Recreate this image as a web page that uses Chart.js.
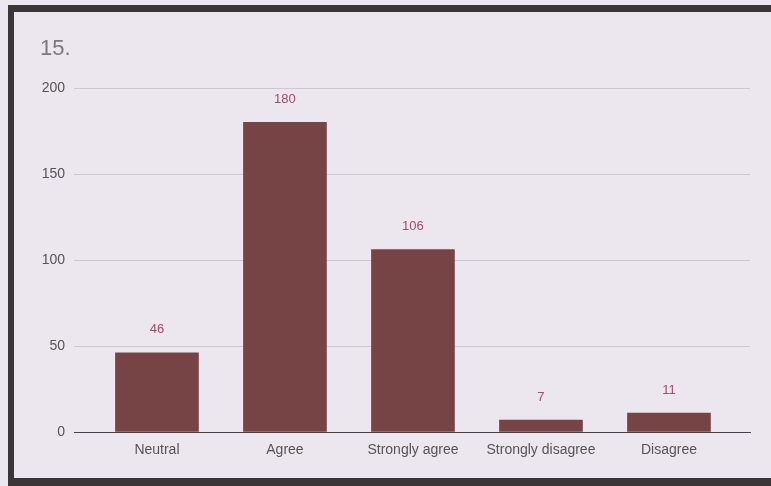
<!DOCTYPE html>
<html>
<head>
<meta charset="utf-8">
<script src="https://cdn.jsdelivr.net/npm/chart.js@4.4.0/dist/chart.umd.min.js"></script>
<style>
  html, body { margin: 0; padding: 0; background: #ece6ef; }
  #wrap { position: relative; width: 771px; height: 486px; overflow: hidden; background: #ece6ef; }
  #frame { position: absolute; left: 8px; top: 5px; right: -10px; bottom: 0; border-top: 7px solid #3b3537; border-left: 6px solid #3b3537; border-bottom: 8px solid #3b3537; pointer-events: none; }
  #title { position: absolute; left: 40px; top: 35px; font: 22px "Liberation Sans", Arial, sans-serif; color: #7a7a7a; }
  canvas { position: absolute; left: 0; top: 0; }
</style>
</head>
<body>
<div id="wrap">
  <canvas id="chart" width="771" height="486"></canvas>
  <div id="frame"></div>
  <div id="title">15.</div>
</div>
<script>
// answers and counts
const categories = ['Neutral', 'Agree', 'Strongly agree', 'Strongly disagree', 'Disagree'];
const counts = [46, 180, 106, 7, 11];
const yTicks = [0, 50, 100, 150, 200];

const barColor = '#774446';
const labelColor = '#a04f66';
const fontFamily = '"Liberation Sans", Arial, sans-serif';

// value labels above bars
const valueLabels = {
  id: 'valueLabels',
  afterDatasetsDraw(chart) {
    const ctx = chart.ctx;
    const meta = chart.getDatasetMeta(0);
    ctx.save();
    ctx.font = '13px ' + fontFamily;
    ctx.fillStyle = labelColor;
    ctx.textAlign = 'center';
    ctx.textBaseline = 'middle';
    meta.data.forEach((bar, i) => {
      ctx.fillText(counts[i], bar.x, bar.y - 23);
    });
    ctx.restore();
  }
};

new Chart(document.getElementById('chart'), {
  type: 'bar',
  data: {
    datasets: [{
      data: counts.map((c, i) => ({ x: i, y: c })),
      backgroundColor: barColor,
      barThickness: 83
    }]
  },
  options: {
    responsive: false,
    animation: false,
    layout: { padding: { left: 14, right: 21, top: 88, bottom: 24 } },
    plugins: { legend: { display: false }, tooltip: { enabled: false } },
    scales: {
      x: {
        type: 'linear',
        offset: false,
        min: -0.648,
        max: 4.633,
        afterBuildTicks: s => { s.ticks = categories.map((c, i) => ({ value: i })); },
        afterFit: s => { s.height = 30; },
        grid: { display: false, drawTicks: false },
        border: { color: '#444', width: 1 },
        ticks: {
          callback: v => categories[v],
          color: '#555',
          padding: 10,
          maxRotation: 0,
          autoSkip: false,
          font: { size: 14, family: fontFamily }
        }
      },
      y: {
        min: 0,
        max: 200,
        afterBuildTicks: s => { s.ticks = yTicks.map(v => ({ value: v })); },
        afterFit: s => { s.width = 60; },
        border: { display: false },
        grid: {
          color: c => c.tick.value === 0 ? '#444' : '#cfc8d3',
          drawTicks: false
        },
        ticks: {
          color: '#555',
          padding: 9,
          font: { size: 14, family: fontFamily }
        }
      }
    }
  },
  plugins: [valueLabels]
});
</script>
</body>
</html>
